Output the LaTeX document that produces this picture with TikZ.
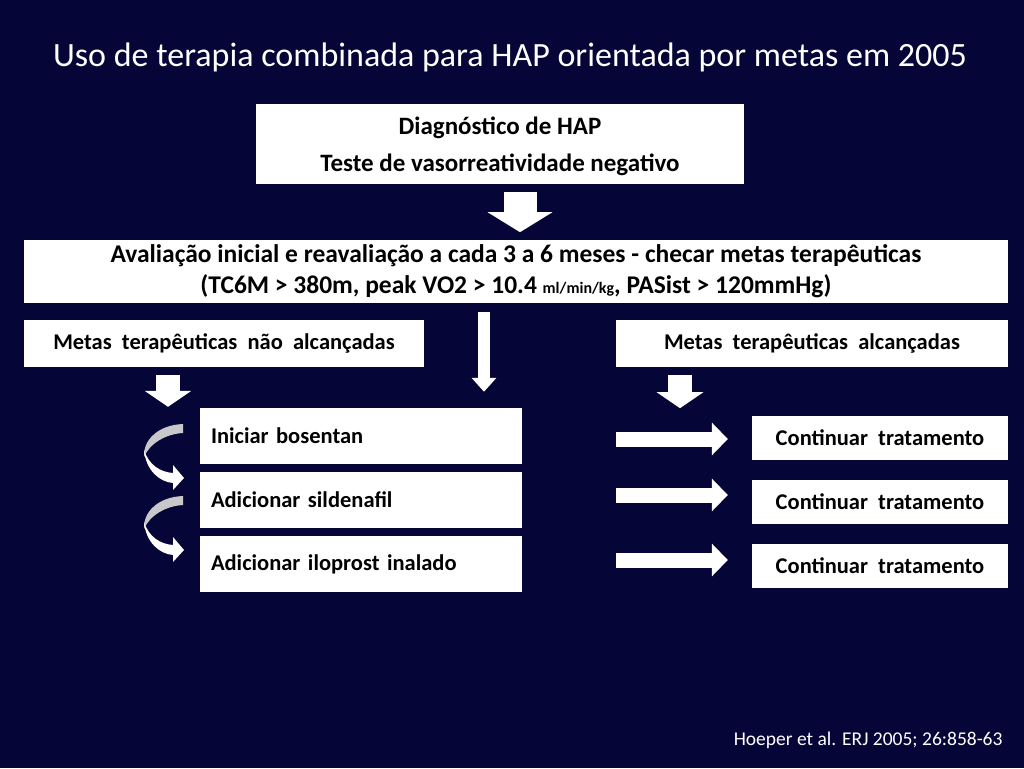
\documentclass[tikz,border=0pt]{standalone}
\usepackage{fontspec}
\setmainfont{Carlito}
\usetikzlibrary{arrows.meta,calc}
\definecolor{slidebg}{RGB}{5,5,55}
\definecolor{ribbon}{RGB}{200,200,202}
\tikzset{
    box/.style={fill=white, text=black, inner sep=0pt, align=center,
        font=\bfseries\fontsize{22.5}{30}\selectfont},
    bigbox/.style={box, font=\bfseries\fontsize{25.5}{31}\selectfont},
    drugbox/.style={box, text width=300pt, inner xsep=11pt, minimum height=56pt, align=left},
    contbox/.style={box, minimum width=256pt, minimum height=44pt},
    bigarrow/.style={white, line width=33pt, -{Triangle[width=64pt,length=20pt]}},
    midarrow/.style={white, line width=24pt, -{Triangle[width=46pt,length=16pt]}},
    thinarrow/.style={white, line width=12pt, -{Triangle[width=24pt,length=14pt]}},
    sidearrow/.style={white, line width=15pt, -{Triangle[width=32pt,length=16pt]}}
}
\begin{document}
\begin{tikzpicture}[x=1pt, y=-1pt]
    % Fundo
    \fill[slidebg] (0,0) rectangle (1024,768);
    \useasboundingbox (0,0) rectangle (1024,768);

    % Titulo
    \node[text=white, font=\fontsize{34}{40}\selectfont] (title) at (510,57)
        {Uso de terapia combinada para HAP orientada por metas em 2005};

    % Caixas principais
    \node[box, minimum width=488pt, minimum height=80pt, fill=none] (diag) at (500,144) {};
    \fill[white] (diag.north west) rectangle (diag.south east);
    \node[bigbox, fill=none, font=\bfseries\fontsize{25}{37}\selectfont] (diagtxt)
        at ($(diag.center)+(0,2)$)
        {Diagnóstico de HAP\\Teste de vasorreatividade negativo};
    \node[bigbox, minimum width=984pt, minimum height=63pt] (eval) at (516,271.5)
        {Avaliação inicial e reavaliação a cada 3 a 6 meses - checar metas terapêuticas\\
         (TC6M > 380m, peak VO2 > 10.4 {\fontsize{16}{18}\selectfont ml/min/kg}, PASist > 120mmHg)};
    \node[box, minimum width=400pt, minimum height=47pt] (notmet) at (224,343.5)
        {Metas\ \ terapêuticas\ \ não\ \ alcançadas};
    \node[box, minimum width=392pt, minimum height=47pt] (met) at (812,343.5)
        {Metas\ \ terapêuticas\ \ alcançadas};

    % Escalonamento
    \node[drugbox] (bosentan) at (361,436) {Iniciar bosentan};
    \node[drugbox] (sildenafil) at (361,500) {Adicionar sildenafil};
    \node[drugbox] (iloprost) at (361,564) {Adicionar iloprost inalado};

    % Continuar
    \node[contbox] (cont1) at (880,438) {Continuar\ \ tratamento};
    \node[contbox] (cont2) at (880,502) {Continuar\ \ tratamento};
    \node[contbox] (cont3) at (880,566) {Continuar\ \ tratamento};

    % Setas em bloco
    \draw[bigarrow] ($(diag.south)+(20,8)$) -- ($(diag.south)+(20,48)$);
    \draw[thinarrow] ($(484,0 |- eval.south)+(0,9)$) -- ($(484,0 |- bosentan.north)+(0,-16)$);
    \draw[midarrow] ($(168,0 |- notmet.south)+(0,8)$) -- ($(168,0 |- bosentan.north)+(0,-1)$);
    \draw[midarrow] ($(680,0 |- met.south)+(0,8)$) -- ($(680,0 |- met.south)+(0,41)$);
    \foreach \c/\y in {cont1/439, cont2/495, cont3/560}
        \draw[sidearrow] (616,\y) -- ($(\c.west |- 0,\y)+(-24,0)$);

    % Setas curvas
    \foreach \dy in {0,72} {
        \begin{scope}[yshift=-\dy pt]
            \fill[ribbon] (183,424) .. controls (158,425) and (143,440) .. (144,457)
                .. controls (150,443) and (166,434) .. (183,433) -- cycle;
            \fill[white] (144,450) .. controls (146,471) and (160,482) .. (173,483)
                -- (173,490) -- (184,478) -- (173,465) -- (173,473)
                .. controls (160,472) and (149,465) .. (144,450) -- cycle;
        \end{scope}
    }

    % Referencia
    \node[text=white, anchor=east, font=\fontsize{19.5}{22}\selectfont] (ref) at (1006,740)
        {Hoeper et al. ERJ 2005; 26:858-63};
\end{tikzpicture}
\end{document}
